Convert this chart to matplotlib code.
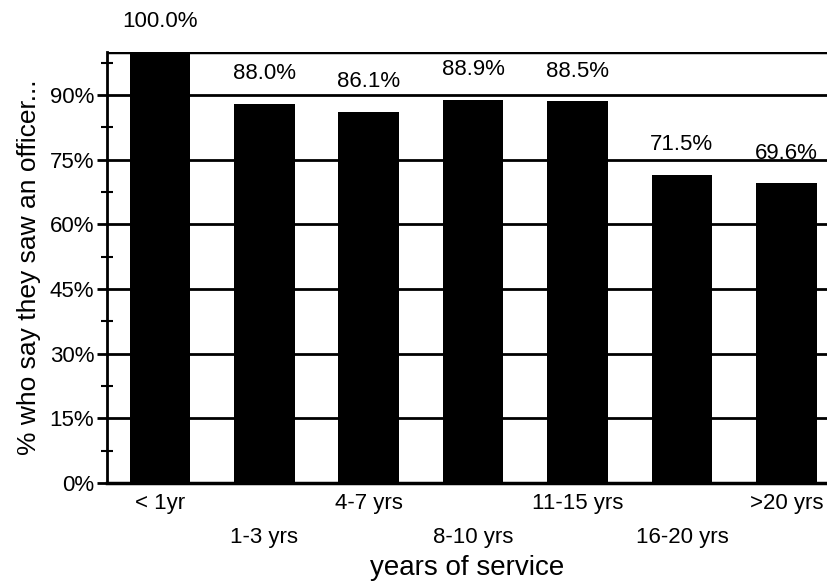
import numpy as np
import matplotlib
matplotlib.use('Agg')
from matplotlib import pyplot as plt
from matplotlib.ticker import MultipleLocator, FuncFormatter

categories = ['< 1yr', '1-3 yrs', '4-7 yrs', '8-10 yrs', '11-15 yrs', '16-20 yrs', '>20 yrs']
values = [100.0, 88.0, 86.1, 88.9, 88.5, 71.5, 69.6]
value_labels = ['100.0%', '88.0%', '86.1%', '88.9%', '88.5%', '71.5%', '69.6%']

plt.rcParams['font.family'] = ['Liberation Sans', 'DejaVu Sans']

fig = plt.figure(figsize=(8.27, 5.83), dpi=100)
ax = fig.add_axes([0.129, 0.1715, 0.871, 0.7395])

x = np.arange(len(categories))
ax.bar(x, values, width=0.58, color='black', zorder=3)

for xi, v, lab in zip(x, values, value_labels):
	ax.annotate(lab, (xi, v), xytext=(0, 14), textcoords='offset points',
		ha='center', va='bottom', fontsize=16, clip_on=False, zorder=4)

ax.set_xlim(-0.51, 6.39)
ax.set_ylim(0, 100)

ax.yaxis.set_major_locator(MultipleLocator(15))
ax.yaxis.set_minor_locator(MultipleLocator(7.5))
ax.yaxis.set_major_formatter(FuncFormatter(lambda v, p: '%d%%' % v if v < 100 else ''))
ax.grid(axis='y', which='major', color='black', linewidth=2, zorder=1)
ax.axhline(100, color='black', linewidth=2.5, zorder=1)
ax.tick_params(axis='y', which='major', direction='out', length=7, width=2, labelsize=16, pad=2)
ax.tick_params(axis='y', which='minor', direction='inout', length=8, width=1.5)

ax.set_xticks(x)
ax.set_xticklabels(categories, fontsize=16)
ax.tick_params(axis='x', length=0)
for i, t in enumerate(ax.xaxis.get_major_ticks()):
	t.set_pad(7 if i % 2 == 0 else 32)

for s in ['top', 'right']:
	ax.spines[s].set_visible(False)
ax.spines['left'].set_linewidth(2)
ax.spines['bottom'].set_linewidth(2.5)

ax.set_xlabel('years of service', fontsize=20, labelpad=5)
ax.set_ylabel('% who say they saw an officer...', fontsize=19, labelpad=6)

plt.savefig('out.png', dpi=100)
